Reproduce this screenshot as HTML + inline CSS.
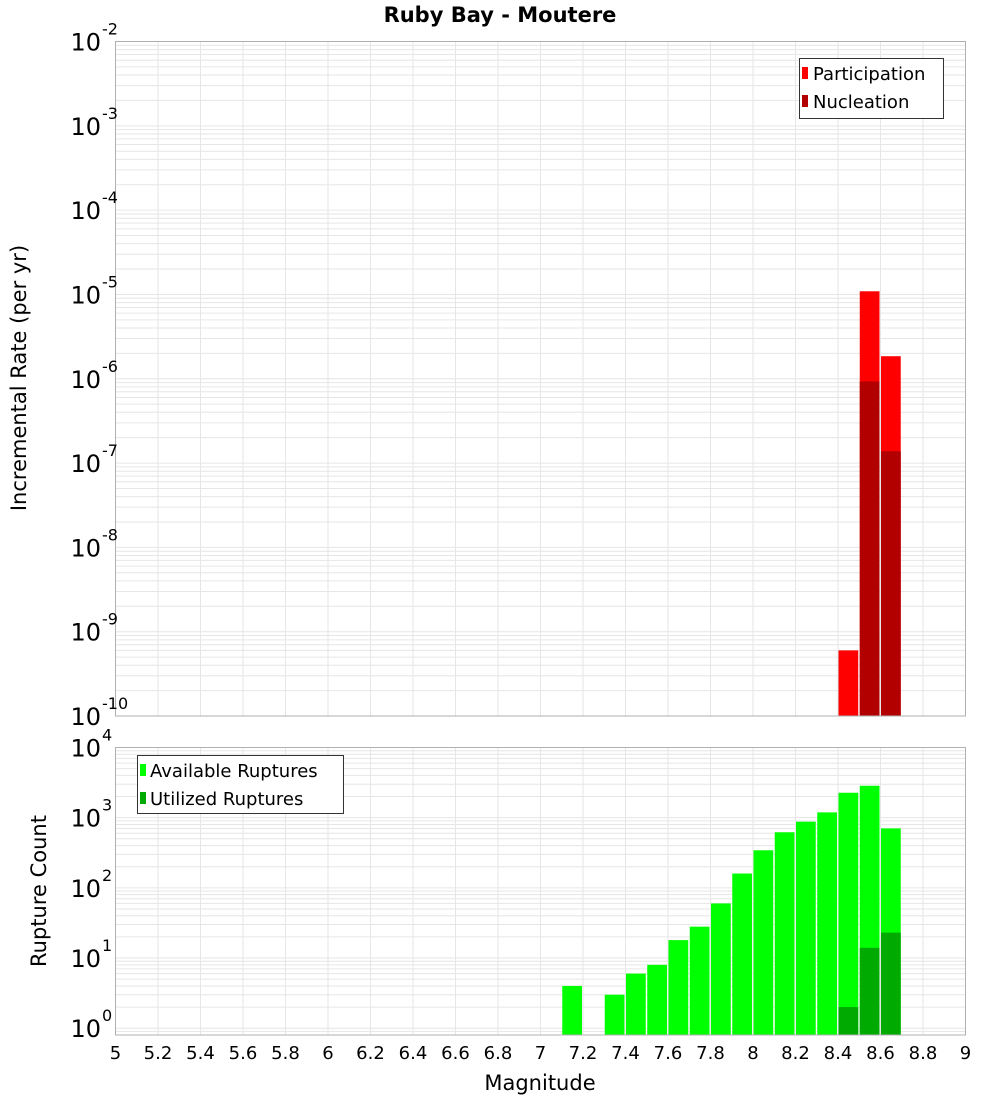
<!DOCTYPE html>
<html><head><meta charset="utf-8"><style>
html,body{margin:0;padding:0;background:#fff;}
svg{display:block;font-family:"DejaVu Sans","Liberation Sans",sans-serif;}
</style></head><body>
<svg id="chart" width="1000" height="1100" viewBox="0 0 1000 1100">
<text x="500" y="22" text-anchor="middle" font-size="21" font-weight="bold">Ruby Bay - Moutere</text>
<g id="top"></g>
<g id="bot"></g>
<text transform="translate(26,378) rotate(-90)" text-anchor="middle" font-size="21">Incremental Rate (per yr)</text>
<text transform="translate(46,891) rotate(-90)" text-anchor="middle" font-size="21">Rupture Count</text>
<text x="540" y="1090" text-anchor="middle" font-size="21">Magnitude</text>
<g>
<rect x="799.5" y="58.5" width="144" height="60" fill="#fff" stroke="#333"/>
<rect x="802" y="67" width="6" height="12" fill="#ff0000"/>
<text x="813" y="80" font-size="18">Participation</text>
<rect x="802" y="95" width="6" height="12" fill="#b20000"/>
<text x="813" y="108" font-size="18">Nucleation</text>
</g>
<g>
<rect x="137.5" y="755.5" width="206" height="58" fill="#fff" stroke="#333"/>
<rect x="140" y="764" width="6" height="12" fill="#00ff00"/>
<text x="150" y="777" font-size="18">Available Ruptures</text>
<rect x="140" y="792" width="6" height="12" fill="#00aa00"/>
<text x="150" y="805" font-size="18">Utilized Ruptures</text>
</g>
</svg>
<script>
const xTicks=[5,5.2,5.4,5.6,5.8,6,6.2,6.4,6.6,6.8,7,7.2,7.4,7.6,7.8,8,8.2,8.4,8.6,8.8,9];
const rateMags=[8.4,8.5,8.6];
const participation=[6e-10,1.09e-5,1.85e-6];
const nucleation=[0,9.3e-7,1.38e-7];
const countMags=[7.1,7.3,7.4,7.5,7.6,7.7,7.8,7.9,8.0,8.1,8.2,8.3,8.4,8.5,8.6];
const available=[4,3,6,8,18,28,60,160,343,620,877,1190,2265,2850,704];
const utilizedMags=[8.4,8.5,8.6];
const utilized=[2,14,23];
const rateExps=[-2,-3,-4,-5,-6,-7,-8,-9,-10];
const countExps=[4,3,2,1,0];

const NS="http://www.w3.org/2000/svg";
const L=115.5,R=965.5;
const xs=m=>L+(m-5)/4*(R-L);
function mk(p,t,a){const e=document.createElementNS(NS,t);for(const k in a)e.setAttribute(k,a[k]);p.appendChild(e);return e;}
function panel(g,top,bot,lmin,lmax,name){
  const ys=v=>bot-(Math.log10(v)-lmin)/(lmax-lmin)*(bot-top);
  const grid=mk(g,'g',{});
  
  
  for(let d=Math.floor(lmin);d<lmax;d++){for(let k=1;k<10;k++){const v=k*Math.pow(10,d);const lv=Math.log10(v);if(lv<lmin||lv>lmax)continue;const y=ys(v);
    mk(grid,'line',{x1:L,x2:R,y1:y,y2:y,stroke:'#e6e6e6','stroke-width':1});}}
  xTicks.forEach(t=>{const x=xs(t);mk(grid,'line',{x1:x,x2:x,y1:top,y2:bot,stroke:'#e6e6e6','stroke-width':1});});
  return ys;
}
function labels(g,exps,ys,name){
  exps.forEach(e=>{const y=ys(Math.pow(10,e));
    const t=mk(g,'text',{x:101,y:y+9,'text-anchor':'end','font-size':24});
    
    
    t.textContent='10';
    const s=mk(g,'text',{x:102,y:y-7,'font-size':16});
    
    
    s.textContent=String(e);});
}
function bar(g,m,v,ys,bot,fill,name){
  const x=xs(m)+0.5,w=xs(m+0.1)-xs(m)-1.5,y=ys(v);
  const r=mk(g,'rect',{x:x,y:y,width:w,height:bot-y,fill:fill,stroke:'#ffdddd','stroke-width':0});
  
  
}
// top panel
const gt=document.getElementById('top');
const T1=41.5,B1=716;
const ys1=panel(gt,T1,B1,-10,-2,'rate');
rateMags.forEach((m,i)=>{bar(gt,m,participation[i],ys1,B1,'#ff0000','participation-bar');
  if(nucleation[i]>0)bar(gt,m,nucleation[i],ys1,B1,'#b20000','nucleation-bar');});
mk(gt,'rect',{x:L,y:T1,width:R-L,height:B1-T1,fill:'none',stroke:'#b0b0b0','stroke-width':1});
labels(gt,rateExps,ys1,'rate');
// bottom panel
const gb=document.getElementById('bot');
const T2=747.5,B2=1035;
const ys2=panel(gb,T2,B2,Math.log10(0.8),4,'count');
countMags.forEach((m,i)=>bar(gb,m,available[i],ys2,B2,'#00ff00','available-bar'));
utilizedMags.forEach((m,i)=>bar(gb,m,utilized[i],ys2,B2,'#00aa00','utilized-bar'));
mk(gb,'rect',{x:L,y:T2,width:R-L,height:B2-T2,fill:'none',stroke:'#b0b0b0','stroke-width':1});
labels(gb,countExps,ys2,'count');
xTicks.forEach(t=>{const tx=mk(gb,'text',{x:xs(t),y:1059,'text-anchor':'middle','font-size':18});
  
  
  tx.textContent=String(t);});
</script>
</body></html>
